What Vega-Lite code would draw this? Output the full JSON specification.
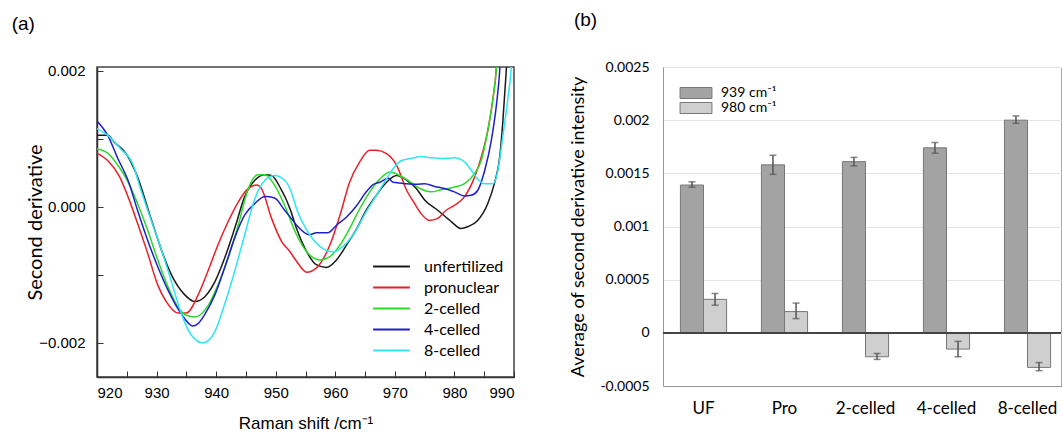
{
  "$schema": "https://vega.github.io/schema/vega-lite/v6.json",
  "background": "white",
  "padding": {"left": 10, "top": 10, "right": 0, "bottom": 0},
  "config": {"concat": {"spacing": 53}, "font": "Liberation Sans"},
  "datasets": {
    "spectra": [
      {"s":"unfertilized","x":920,"y":0.00105},{"s":"unfertilized","x":921.8,"y":0.00105},{"s":"unfertilized","x":922.9,"y":0.00095},{"s":"unfertilized","x":924.9,"y":0.00078},{"s":"unfertilized","x":926.8,"y":0.00044},{"s":"unfertilized","x":928.8,"y":-0.0001},{"s":"unfertilized","x":930.8,"y":-0.00063},{"s":"unfertilized","x":932.5,"y":-0.001},{"s":"unfertilized","x":934.7,"y":-0.00129},{"s":"unfertilized","x":936.4,"y":-0.00139},{"s":"unfertilized","x":938.1,"y":-0.00132},{"s":"unfertilized","x":939.8,"y":-0.0011},{"s":"unfertilized","x":941.4,"y":-0.00076},{"s":"unfertilized","x":943.1,"y":-0.00032},{"s":"unfertilized","x":944.8,"y":0.00015},{"s":"unfertilized","x":946.5,"y":0.00039},{"s":"unfertilized","x":948.2,"y":0.00047},{"s":"unfertilized","x":949.3,"y":0.00046},{"s":"unfertilized","x":951.0,"y":0.00024},{"s":"unfertilized","x":951.8,"y":0.0001},{"s":"unfertilized","x":952.4,"y":-0.00003},{"s":"unfertilized","x":953.5,"y":-0.00032},{"s":"unfertilized","x":955.2,"y":-0.00066},{"s":"unfertilized","x":956.8,"y":-0.00085},{"s":"unfertilized","x":958.5,"y":-0.00089},{"s":"unfertilized","x":960.2,"y":-0.00078},{"s":"unfertilized","x":961.9,"y":-0.00056},{"s":"unfertilized","x":963.6,"y":-0.00032},{"s":"unfertilized","x":965.2,"y":-0.00005},{"s":"unfertilized","x":966.9,"y":0.00017},{"s":"unfertilized","x":968.6,"y":0.00036},{"s":"unfertilized","x":970.3,"y":0.00046},{"s":"unfertilized","x":972.0,"y":0.00039},{"s":"unfertilized","x":973.6,"y":0.00027},{"s":"unfertilized","x":975.0,"y":0.0001},{"s":"unfertilized","x":977.2,"y":-0.00005},{"s":"unfertilized","x":979.5,"y":-0.00022},{"s":"unfertilized","x":981.1,"y":-0.00032},{"s":"unfertilized","x":982.3,"y":-0.00029},{"s":"unfertilized","x":983.9,"y":-0.0002},{"s":"unfertilized","x":985.6,"y":0.00005},{"s":"unfertilized","x":986.7,"y":0.00034},{"s":"unfertilized","x":987.6,"y":0.00073},{"s":"unfertilized","x":988.1,"y":0.00122},{"s":"unfertilized","x":988.7,"y":0.002},{"s":"unfertilized","x":988.9,"y":0.0023},
      {"s":"pronuclear","x":920,"y":0.00079},{"s":"pronuclear","x":921.8,"y":0.00068},{"s":"pronuclear","x":923.8,"y":0.00044},{"s":"pronuclear","x":925.2,"y":0.00015},{"s":"pronuclear","x":926.8,"y":-0.00024},{"s":"pronuclear","x":928.5,"y":-0.00068},{"s":"pronuclear","x":930.2,"y":-0.00115},{"s":"pronuclear","x":931.6,"y":-0.00139},{"s":"pronuclear","x":933.6,"y":-0.00156},{"s":"pronuclear","x":935.0,"y":-0.00156},{"s":"pronuclear","x":937.0,"y":-0.00129},{"s":"pronuclear","x":938.6,"y":-0.00095},{"s":"pronuclear","x":940.3,"y":-0.00056},{"s":"pronuclear","x":942.0,"y":-0.00022},{"s":"pronuclear","x":943.7,"y":0.00007},{"s":"pronuclear","x":945.4,"y":0.00027},{"s":"pronuclear","x":946.8,"y":0.00032},{"s":"pronuclear","x":947.6,"y":0.00027},{"s":"pronuclear","x":949.3,"y":-0.00017},{"s":"pronuclear","x":951.0,"y":-0.00051},{"s":"pronuclear","x":952.4,"y":-0.00066},{"s":"pronuclear","x":953.5,"y":-0.0008},{"s":"pronuclear","x":955.2,"y":-0.00096},{"s":"pronuclear","x":956.8,"y":-0.0009},{"s":"pronuclear","x":959.1,"y":-0.00056},{"s":"pronuclear","x":960.8,"y":-0.00012},{"s":"pronuclear","x":962.4,"y":0.00036},{"s":"pronuclear","x":964.1,"y":0.00066},{"s":"pronuclear","x":965.8,"y":0.00083},{"s":"pronuclear","x":966.9,"y":0.00083},{"s":"pronuclear","x":968.6,"y":0.00078},{"s":"pronuclear","x":970.3,"y":0.00061},{"s":"pronuclear","x":972.0,"y":0.00024},{"s":"pronuclear","x":973.3,"y":0.00005},{"s":"pronuclear","x":974.4,"y":-0.0001},{"s":"pronuclear","x":975.8,"y":-0.0002},{"s":"pronuclear","x":977.2,"y":-0.00017},{"s":"pronuclear","x":978.6,"y":-0.00005},{"s":"pronuclear","x":980.0,"y":0.00002},{"s":"pronuclear","x":981.7,"y":0.00015},{"s":"pronuclear","x":983.4,"y":0.00044},{"s":"pronuclear","x":984.5,"y":0.00073},{"s":"pronuclear","x":985.6,"y":0.00112},{"s":"pronuclear","x":986.5,"y":0.00161},{"s":"pronuclear","x":987.0,"y":0.002},{"s":"pronuclear","x":987.2,"y":0.0023},
      {"s":"2-celled","x":920,"y":0.00085},{"s":"2-celled","x":921.8,"y":0.00079},{"s":"2-celled","x":923.5,"y":0.00061},{"s":"2-celled","x":925.2,"y":0.00037},{"s":"2-celled","x":926.8,"y":0.00005},{"s":"2-celled","x":928.5,"y":-0.00034},{"s":"2-celled","x":930.2,"y":-0.00078},{"s":"2-celled","x":931.9,"y":-0.00117},{"s":"2-celled","x":933.5,"y":-0.00146},{"s":"2-celled","x":934.9,"y":-0.00159},{"s":"2-celled","x":936.4,"y":-0.00162},{"s":"2-celled","x":938.6,"y":-0.00146},{"s":"2-celled","x":940.3,"y":-0.00115},{"s":"2-celled","x":942.0,"y":-0.00076},{"s":"2-celled","x":943.7,"y":-0.00027},{"s":"2-celled","x":945.4,"y":0.00027},{"s":"2-celled","x":947.0,"y":0.00047},{"s":"2-celled","x":948.2,"y":0.00047},{"s":"2-celled","x":949.8,"y":0.00032},{"s":"2-celled","x":951.5,"y":0.00002},{"s":"2-celled","x":953.5,"y":-0.00041},{"s":"2-celled","x":955.2,"y":-0.00066},{"s":"2-celled","x":957.4,"y":-0.00078},{"s":"2-celled","x":959.1,"y":-0.00073},{"s":"2-celled","x":960.8,"y":-0.00056},{"s":"2-celled","x":962.4,"y":-0.00032},{"s":"2-celled","x":964.1,"y":-0.00003},{"s":"2-celled","x":965.8,"y":0.00022},{"s":"2-celled","x":967.5,"y":0.00041},{"s":"2-celled","x":969.2,"y":0.00051},{"s":"2-celled","x":970.8,"y":0.00046},{"s":"2-celled","x":972.5,"y":0.00037},{"s":"2-celled","x":973.3,"y":0.00032},{"s":"2-celled","x":975.0,"y":0.00024},{"s":"2-celled","x":976.1,"y":0.00022},{"s":"2-celled","x":977.8,"y":0.00025},{"s":"2-celled","x":980.0,"y":0.00029},{"s":"2-celled","x":981.7,"y":0.00034},{"s":"2-celled","x":983.4,"y":0.00049},{"s":"2-celled","x":984.5,"y":0.00068},{"s":"2-celled","x":985.6,"y":0.00112},{"s":"2-celled","x":986.5,"y":0.00161},{"s":"2-celled","x":987.0,"y":0.002},{"s":"2-celled","x":987.2,"y":0.0023},
      {"s":"4-celled","x":920,"y":0.00126},{"s":"4-celled","x":921.8,"y":0.00105},{"s":"4-celled","x":923.5,"y":0.00071},{"s":"4-celled","x":925.2,"y":0.00039},{"s":"4-celled","x":926.8,"y":-0.00005},{"s":"4-celled","x":928.5,"y":-0.00049},{"s":"4-celled","x":930.2,"y":-0.00088},{"s":"4-celled","x":931.9,"y":-0.00122},{"s":"4-celled","x":934.2,"y":-0.00158},{"s":"4-celled","x":936.1,"y":-0.00175},{"s":"4-celled","x":936.9,"y":-0.00172},{"s":"4-celled","x":938.1,"y":-0.00158},{"s":"4-celled","x":939.8,"y":-0.00129},{"s":"4-celled","x":941.4,"y":-0.0009},{"s":"4-celled","x":943.1,"y":-0.00046},{"s":"4-celled","x":944.8,"y":-0.00012},{"s":"4-celled","x":946.5,"y":0.00005},{"s":"4-celled","x":948.2,"y":0.00015},{"s":"4-celled","x":949.8,"y":0.00013},{"s":"4-celled","x":951.5,"y":-0.00005},{"s":"4-celled","x":952.6,"y":-0.00017},{"s":"4-celled","x":953.5,"y":-0.00027},{"s":"4-celled","x":955.7,"y":-0.00041},{"s":"4-celled","x":956.8,"y":-0.00038},{"s":"4-celled","x":958.8,"y":-0.00038},{"s":"4-celled","x":960.2,"y":-0.00027},{"s":"4-celled","x":961.9,"y":-0.00015},{"s":"4-celled","x":963.6,"y":0.00002},{"s":"4-celled","x":965.2,"y":0.00022},{"s":"4-celled","x":966.4,"y":0.00033},{"s":"4-celled","x":967.5,"y":0.00036},{"s":"4-celled","x":968.9,"y":0.00042},{"s":"4-celled","x":969.7,"y":0.00036},{"s":"4-celled","x":972.0,"y":0.00034},{"s":"4-celled","x":973.6,"y":0.00033},{"s":"4-celled","x":975.0,"y":0.00034},{"s":"4-celled","x":976.7,"y":0.0003},{"s":"4-celled","x":978.3,"y":0.00027},{"s":"4-celled","x":980.0,"y":0.00022},{"s":"4-celled","x":981.7,"y":0.00016},{"s":"4-celled","x":982.8,"y":0.00017},{"s":"4-celled","x":983.9,"y":0.00024},{"s":"4-celled","x":985.1,"y":0.00054},{"s":"4-celled","x":986.2,"y":0.00098},{"s":"4-celled","x":987.0,"y":0.00146},{"s":"4-celled","x":987.6,"y":0.002},{"s":"4-celled","x":987.8,"y":0.0023},
      {"s":"8-celled","x":920,"y":0.00115},{"s":"8-celled","x":921.8,"y":0.00105},{"s":"8-celled","x":924.0,"y":0.00085},{"s":"8-celled","x":926.0,"y":0.00063},{"s":"8-celled","x":927.4,"y":0.00024},{"s":"8-celled","x":929.1,"y":-0.0002},{"s":"8-celled","x":930.8,"y":-0.00063},{"s":"8-celled","x":932.4,"y":-0.00107},{"s":"8-celled","x":934.2,"y":-0.00158},{"s":"8-celled","x":935.8,"y":-0.00188},{"s":"8-celled","x":937.8,"y":-0.002},{"s":"8-celled","x":939.8,"y":-0.00183},{"s":"8-celled","x":941.4,"y":-0.00144},{"s":"8-celled","x":943.1,"y":-0.00095},{"s":"8-celled","x":944.8,"y":-0.00041},{"s":"8-celled","x":946.5,"y":0.00012},{"s":"8-celled","x":948.2,"y":0.00039},{"s":"8-celled","x":949.8,"y":0.00046},{"s":"8-celled","x":951.5,"y":0.00039},{"s":"8-celled","x":952.6,"y":0.00022},{"s":"8-celled","x":953.5,"y":-0.00003},{"s":"8-celled","x":955.7,"y":-0.00041},{"s":"8-celled","x":957.4,"y":-0.00058},{"s":"8-celled","x":959.6,"y":-0.00066},{"s":"8-celled","x":961.3,"y":-0.00058},{"s":"8-celled","x":963.0,"y":-0.00041},{"s":"8-celled","x":965.2,"y":-0.00007},{"s":"8-celled","x":966.9,"y":0.00017},{"s":"8-celled","x":968.6,"y":0.00041},{"s":"8-celled","x":969.7,"y":0.00056},{"s":"8-celled","x":971.1,"y":0.00068},{"s":"8-celled","x":972.7,"y":0.00071},{"s":"8-celled","x":974.4,"y":0.00074},{"s":"8-celled","x":976.1,"y":0.00072},{"s":"8-celled","x":977.8,"y":0.00071},{"s":"8-celled","x":980.0,"y":0.00072},{"s":"8-celled","x":981.7,"y":0.00066},{"s":"8-celled","x":982.8,"y":0.00054},{"s":"8-celled","x":983.9,"y":0.00041},{"s":"8-celled","x":985.1,"y":0.00034},{"s":"8-celled","x":986.5,"y":0.00034},{"s":"8-celled","x":987.3,"y":0.00054},{"s":"8-celled","x":988.1,"y":0.00102},{"s":"8-celled","x":989.0,"y":0.00161},{"s":"8-celled","x":989.5,"y":0.002},{"s":"8-celled","x":989.7,"y":0.0023}
    ],
    "bars": [
      {"stage":"UF","band":"939 cm⁻¹","value":0.00139,"lo":0.00137,"hi":0.00142},
      {"stage":"Pro","band":"939 cm⁻¹","value":0.00158,"lo":0.00149,"hi":0.00167},
      {"stage":"2-celled","band":"939 cm⁻¹","value":0.00161,"lo":0.00157,"hi":0.00165},
      {"stage":"4-celled","band":"939 cm⁻¹","value":0.00174,"lo":0.00169,"hi":0.00179},
      {"stage":"8-celled","band":"939 cm⁻¹","value":0.002,"lo":0.00197,"hi":0.00204},
      {"stage":"UF","band":"980 cm⁻¹","value":0.000315,"lo":0.00026,"hi":0.00037},
      {"stage":"Pro","band":"980 cm⁻¹","value":0.0002,"lo":0.000134,"hi":0.00028},
      {"stage":"2-celled","band":"980 cm⁻¹","value":-0.000225,"lo":-0.00025,"hi":-0.000194},
      {"stage":"4-celled","band":"980 cm⁻¹","value":-0.000153,"lo":-0.000225,"hi":-0.00008},
      {"stage":"8-celled","band":"980 cm⁻¹","value":-0.000325,"lo":-0.000356,"hi":-0.00028}
    ]
  },
  "hconcat": [
    {
      "width": 417,
      "height": 310,
      "title": {"text": "(a)", "anchor": "start", "frame": "bounds", "fontSize": 19, "fontWeight": "normal", "font": "Liberation Sans", "offset": 30, "dx": -14, "color": "black"},
      "data": {"name": "spectra"},
      "view": {"stroke": "#444", "strokeWidth": 1.5},
      "mark": {"type": "line", "strokeWidth": 1.5, "clip": true, "interpolate": "monotone"},
      "encoding": {
        "x": {"field": "x", "type": "quantitative",
          "scale": {"domain": [920, 990], "nice": false, "zero": false},
          "axis": {"values": [920,925,930,935,940,945,950,955,960,965,970,975,980,985,990],
            "labelExpr": "datum.value % 10 === 0 ? format(datum.value, 'd') : ''",
            "grid": false, "tickSize": -6, "tickColor": "#333", "domainColor": "#333", "domainWidth": 1.5,
            "labelFontSize": 15, "labelColor": "black", "labelPadding": 14, "labelFont": "Liberation Sans",
            "title": "Raman shift /cm⁻¹", "titleFontSize": 17, "titleFontWeight": "normal", "titleColor": "black", "titlePadding": 15, "titleFont": "Liberation Sans"}},
        "y": {"field": "y", "type": "quantitative",
          "scale": {"domain": [-0.0025, 0.002054], "nice": false, "zero": false},
          "axis": {"values": [-0.002, -0.001, 0, 0.001, 0.002],
            "labelExpr": "abs(round(datum.value*1000)) % 2 === 0 ? format(datum.value, '.3f') : ''",
            "grid": false, "tickSize": -6, "tickColor": "#333", "domainColor": "#333", "domainWidth": 1.5,
            "labelFontSize": 15, "labelColor": "black", "labelPadding": 18, "labelFont": "Liberation Sans",
            "title": "Second derivative", "titleFontSize": 20, "titleFontWeight": "normal", "titleColor": "black", "titlePadding": -7, "titleFont": "Lato"}},
        "color": {"field": "s", "type": "nominal",
          "scale": {"domain": ["unfertilized", "pronuclear", "2-celled", "4-celled", "8-celled"],
            "range": ["#1a1a1a", "#e8202a", "#2bd92b", "#2020c8", "#2ee6f2"]},
          "legend": {"orient": "none", "legendX": 283, "legendY": 188, "title": null,
            "symbolType": "M-1.75,0H1.75", "symbolSize": 441, "symbolStrokeWidth": 2,
            "labelFontSize": 16, "labelFont": "Lato", "labelColor": "black", "labelOffset": 21, "rowPadding": 1, "padding": 0}}
      }
    },
    {
      "width": 398,
      "height": 319,
      "title": {"text": "(b)", "anchor": "start", "frame": "bounds", "fontSize": 19, "fontWeight": "normal", "font": "Liberation Sans", "offset": 30, "dx": 4, "color": "black"},
      "data": {"name": "bars"},
      "view": {"stroke": "#aaa", "strokeWidth": 1},
      "layer": [
        {
          "mark": {"type": "bar", "stroke": "#777", "strokeWidth": 1},
          "encoding": {
            "x": {"field": "stage", "type": "nominal", "sort": ["UF", "Pro", "2-celled", "4-celled", "8-celled"],
              "scale": {"range": [0, 405], "paddingInner": 0.43, "paddingOuter": 0.215},
              "axis": {"title": null, "labelAngle": 0, "ticks": false, "domainColor": "#999", "labelFontSize": 17, "labelFont": "Lato", "labelColor": "black", "labelPadding": 14}},
            "xOffset": {"field": "band", "type": "nominal", "sort": ["939 cm⁻¹", "980 cm⁻¹"]},
            "y": {"field": "value", "type": "quantitative",
              "scale": {"domain": [-0.0005, 0.0025], "nice": false, "zero": false},
              "axis": {"values": [-0.0005, 0, 0.0005, 0.001, 0.0015, 0.002, 0.0025],
                "labelExpr": "replace(format(datum.value, '~g'), '−', '-')",
                "ticks": false, "grid": true, "gridColor": "#e4e4e4", "domainColor": "#999",
                "labelFontSize": 14, "labelFont": "Lato", "labelColor": "black", "labelPadding": 14,
                "title": "Average of second derivative intensity", "titleFontSize": 18, "titleFont": "Lato", "titleFontWeight": "normal", "titleColor": "black", "titlePadding": 12}},
            "fill": {"field": "band", "type": "nominal",
              "scale": {"domain": ["939 cm⁻¹", "980 cm⁻¹"], "range": ["#a3a3a3", "#cfcfcf"]},
              "legend": {"orient": "none", "legendX": 592, "legendY": 19, "title": null, "padding": 0,
                "symbolType": "M-2.9,-1H2.9V1H-2.9Z", "symbolSize": 121, "symbolStrokeColor": "#777", "symbolStrokeWidth": 1,
                "labelFontSize": 14, "labelFont": "Lato", "labelColor": "black", "labelOffset": 18, "rowPadding": -3}}
          }
        },
        {
          "mark": {"type": "rule", "color": "#555", "strokeWidth": 1.5},
          "encoding": {
            "x": {"field": "stage", "type": "nominal", "sort": ["UF", "Pro", "2-celled", "4-celled", "8-celled"]},
            "xOffset": {"field": "band", "type": "nominal", "sort": ["939 cm⁻¹", "980 cm⁻¹"]},
            "y": {"field": "lo", "type": "quantitative"},
            "y2": {"field": "hi"}
          }
        },
        {
          "mark": {"type": "tick", "color": "#555", "thickness": 1.5, "size": 7},
          "encoding": {
            "x": {"field": "stage", "type": "nominal", "sort": ["UF", "Pro", "2-celled", "4-celled", "8-celled"]},
            "xOffset": {"field": "band", "type": "nominal", "sort": ["939 cm⁻¹", "980 cm⁻¹"]},
            "y": {"field": "lo", "type": "quantitative"}
          }
        },
        {
          "mark": {"type": "tick", "color": "#555", "thickness": 1.5, "size": 7},
          "encoding": {
            "x": {"field": "stage", "type": "nominal", "sort": ["UF", "Pro", "2-celled", "4-celled", "8-celled"]},
            "xOffset": {"field": "band", "type": "nominal", "sort": ["939 cm⁻¹", "980 cm⁻¹"]},
            "y": {"field": "hi", "type": "quantitative"}
          }
        },
        {
          "mark": {"type": "rule", "color": "#444", "strokeWidth": 1.2},
          "encoding": {"y": {"datum": 0}}
        }
      ]
    }
  ]
}
